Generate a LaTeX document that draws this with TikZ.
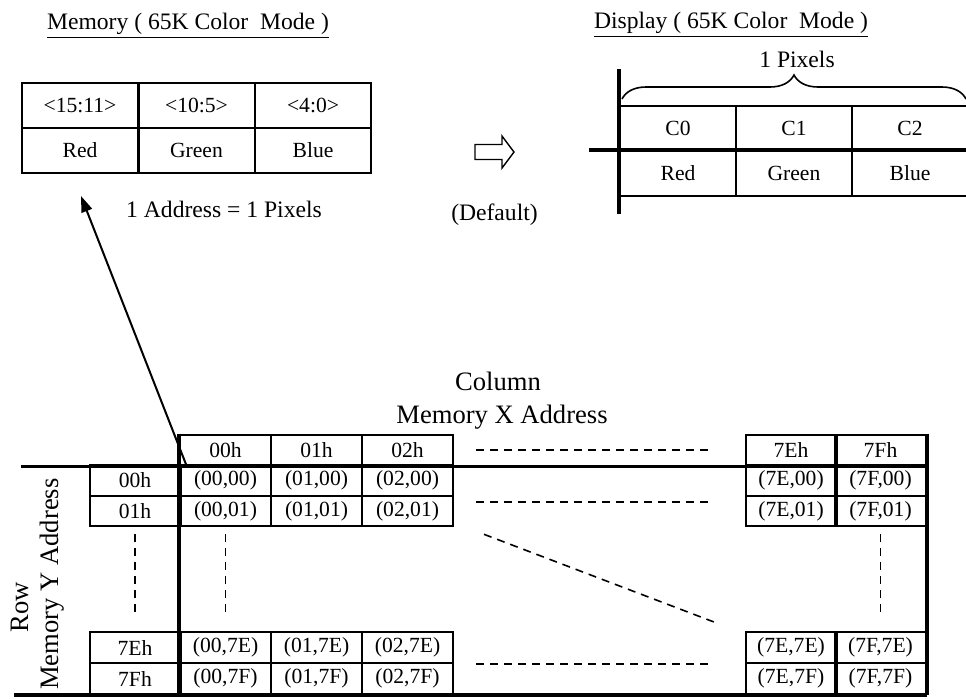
\documentclass[tikz,border=0pt]{standalone}
\usepackage{fontspec}
\setmainfont{Liberation Serif}
\usetikzlibrary{arrows.meta,decorations.pathreplacing}

\begin{document}
\begin{tikzpicture}[x=0.5pt,y=-0.5pt,
lab/.style={font=\fontsize{11.8}{13}\selectfont},
big/.style={font=\fontsize{13.3}{15}\selectfont},
cell/.style={draw,line width=1pt,inner sep=0,minimum width=45.5pt,minimum height=15.3pt,font=\fontsize{10.8}{12}\selectfont},
wide/.style={cell,minimum width=58pt,minimum height=22.5pt},
axis/.style={line width=1.75pt},
gap/.style={line width=0.8pt,dash pattern=on 4pt off 3pt},
ptr/.style={-{Triangle[length=8pt,width=5.5pt]},line width=1pt}]
	\useasboundingbox (0,0) rectangle (966,698);

	%memory
	\node[lab,anchor=base] (memt) at (188,29) {\underline{Memory ( 65K Color~~Mode )}};
	\foreach \bits/\hue [count=\i] in {<15:11>/Red,<10:5>/Green,<4:0>/Blue} {
		\node[wide] (bit\i) at (80+116.5*\i-116.5,105.5) {\bits};
		\node[wide] (col\i) at (80+116.5*\i-116.5,150.5) {\hue};
	}
	\node[lab,anchor=base] (addr) at (224,217) {1 Address = 1 Pixels};

	%convert
	\coordinate (conv) at (475,152);
	\draw[line width=0.7pt] (conv) -- ++(0,-7.5) -- ++(27,0) -- ++(0,-8.5) -- ++(12,16) -- ++(-12,16) -- ++(0,-8.5) -- ++(-27,0) -- cycle;
	\node[lab,anchor=base] (dflt) at (494.5,220) {(Default)};

	%display
	\node[lab,anchor=base] (dispt) at (731,28) {\underline{Display ( 65K Color~~Mode )}};
	\foreach \cn/\hue [count=\i] in {C0/Red,C1/Green,C2/Blue} {
		\node[wide] (dc\i) at (678+116*\i-116,128.5) {\cn};
		\node[wide] (dh\i) at (678+116*\i-116,173.5) {\hue};
	}
	\draw[axis] ([yshift=18pt]dc1.north west) -- ([yshift=-8.5pt]dh1.south west);
	\draw[axis] ([xshift=-15pt]dh1.north west) -- (dh3.north east);
	\draw[decorate,decoration={brace,amplitude=12pt},line width=0.8pt] ([xshift=1.5pt,yshift=3pt]dc1.north west) -- ([xshift=-1.5pt,yshift=3pt]dc3.north east);
	\node[lab,anchor=base] (px) at (797,67) {1 Pixels};

	%address grid
	\node[big,anchor=base] (colt) at (498,390) {Column};
	\node[big,anchor=base] (xadr) at (502,423) {Memory X Address};
	\node[big,anchor=base,rotate=90] (rowt) at (28,607) {Row};
	\node[big,anchor=base,rotate=90] (yadr) at (58,584) {Memory Y Address};

	\foreach \cx/\xx in {00/225.5,01/316.5,02/407.5,7E/791,7F/880.5}
		\node[cell] (hx\cx) at (\xx,450) {\cx h};
	\foreach \ry/\yy in {00/480.5,01/511,7E/647.5,7F/678.5} {
		\node[cell] (hy\ry) at (135,\yy) {\ry h};
		\foreach \cx/\xx in {00/225.5,01/316.5,02/407.5,7E/791,7F/880.5}
			\node[cell] (m\cx\ry) at (\xx,\yy) {(\cx,\ry)};
	}

	\draw[axis] (hx00.north west) -- ++(0,263);
	\draw[axis] ([xshift=-79pt]hx00.south west) -- (hx7F.south east);
	\draw[axis] (hx7F.north east) -- (m7F7F.south east);
	\draw[axis] ([xshift=-82.5pt]m007F.south west) -- (m7F7F.south east);

	%skipped cells
	\draw[gap] ([xshift=11pt]hx02.east) -- ([xshift=-18pt]hx7E.west);
	\draw[gap] ([xshift=11pt,yshift=-3.6pt]m0201.north east) -- ([xshift=-18pt,yshift=-3.6pt]m7E01.north west);
	\draw[gap] ([xshift=11pt]m027E.south east) -- ([xshift=-18pt]m7E7E.south west);
	\draw[gap] ([xshift=15pt,yshift=-3.5pt]m0201.south east) -- ([xshift=-15pt,yshift=4.5pt]m7E7E.north west);
	\draw[gap] ([yshift=-3.5pt]hy01.south) -- ([yshift=7.5pt]hy7E.north);
	\draw[gap] ([yshift=-3.5pt]m0001.south) -- ([yshift=7.5pt]m007E.north);
	\draw[gap] ([yshift=-3.5pt]m7F01.south) -- ([yshift=7.5pt]m7F7E.north);

	%pointer
	\coordinate (tip) at ([xshift=30pt,yshift=-11pt]col1.south west);
	\draw[ptr] ([xshift=3.5pt,yshift=1pt]hx00.south west) -- (tip);
\end{tikzpicture}
\end{document}
